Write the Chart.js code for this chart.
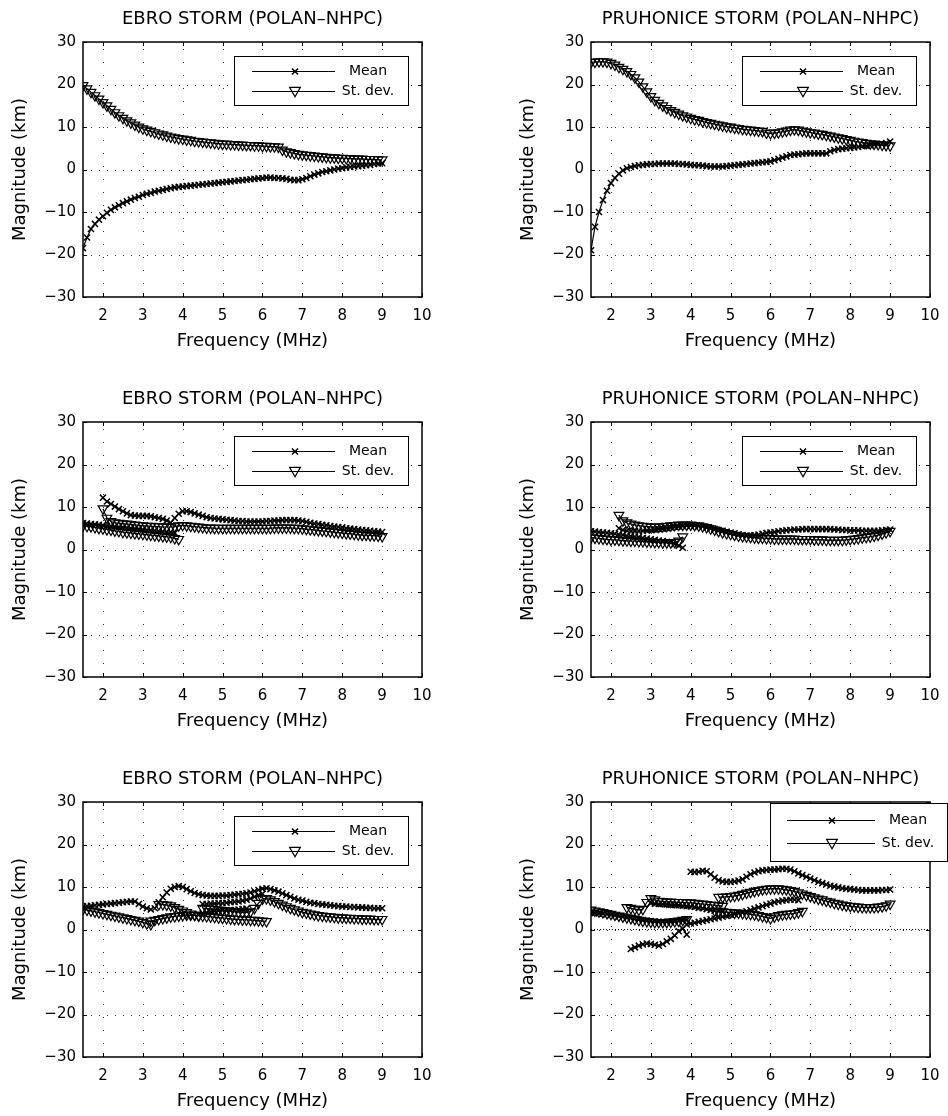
<!DOCTYPE html>
<html>
<head>
<meta charset="utf-8">
<script src="https://cdn.jsdelivr.net/npm/chart.js@4.4.1/dist/chart.umd.min.js"></script>
<style>
html,body{margin:0;padding:0;background:#fff;overflow:hidden;}
body{width:948px;height:1116px;position:relative;}
canvas{position:absolute;}
</style>
</head>
<body>
<canvas id="c0" width="474" height="356" style="left:0;top:0"></canvas>
<canvas id="c1" width="474" height="356" style="left:474px;top:0"></canvas>
<canvas id="c2" width="474" height="356" style="left:0;top:380px"></canvas>
<canvas id="c3" width="474" height="356" style="left:474px;top:380px"></canvas>
<canvas id="c4" width="474" height="356" style="left:0;top:760px"></canvas>
<canvas id="c5" width="474" height="356" style="left:474px;top:760px"></canvas>
<script>
// ---------------- DATA ----------------
const panelTitles = [
  'EBRO STORM (POLAN\u2013NHPC)', 'PRUHONICE STORM (POLAN\u2013NHPC)',
  'EBRO STORM (POLAN\u2013NHPC)', 'PRUHONICE STORM (POLAN\u2013NHPC)',
  'EBRO STORM (POLAN\u2013NHPC)', 'PRUHONICE STORM (POLAN\u2013NHPC)'
];
const xAxisTitle = 'Frequency (MHz)';
const yAxisTitle = 'Magnitude (km)';
const legendLabels = ['Mean', 'St. dev.'];
const xTicks = [2, 3, 4, 5, 6, 7, 8, 9, 10];
const yTicks = [-30, -20, -10, 0, 10, 20, 30];
const xMin = 1.5, xMax = 10, yMin = -30, yMax = 30;
const refLevel = 0;

const freqMHz = [1.5,1.6,1.7,1.8,1.9,2.0,2.1,2.2,2.3,2.4,2.5,2.6,2.7,2.8,2.9,3.0,3.1,3.2,3.3,3.4,
  3.5,3.6,3.7,3.8,3.9,4.0,4.1,4.2,4.3,4.4,4.5,4.6,4.7,4.8,4.9,5.0,5.1,5.2,5.3,5.4,
  5.5,5.6,5.7,5.8,5.9,6.0,6.1,6.2,6.3,6.4,6.5,6.6,6.7,6.8,6.9,7.0,7.1,7.2,7.3,7.4,
  7.5,7.6,7.7,7.8,7.9,8.0,8.1,8.2,8.3,8.4,8.5,8.6,8.7,8.8,8.9,9.0];

// Panel 1: EBRO (top)  — start 1.5 MHz
const ebroTopMean = [-18.5,-16,-14,-12.8,-11.8,-11,-10.2,-9.5,-8.9,-8.4,
  -7.9,-7.5,-7.1,-6.7,-6.4,-6,-5.7,-5.5,-5.2,-5,
  -4.8,-4.6,-4.4,-4.2,-4.1,-4,-3.9,-3.8,-3.7,-3.6,
  -3.5,-3.4,-3.3,-3.2,-3.1,-3,-2.9,-2.8,-2.7,-2.6,
  -2.5,-2.4,-2.3,-2.2,-2.1,-2,-1.9,-1.9,-2,-2,
  -2.1,-2.2,-2.4,-2.5,-2.5,-2.3,-2,-1.6,-1.2,-0.9,
  -0.6,-0.4,-0.2,0,0.2,0.3,0.5,0.6,0.7,0.8,
  0.9,1,1.1,1.3,1.4,1.5];
const ebroTopStd = [19.8,19,18.2,17.4,16.6,15.8,15,14.2,13.4,12.7,
  12.1,11.5,11,10.5,10,9.6,9.3,9,8.7,8.4,
  8.2,7.9,7.7,7.5,7.3,7.2,7,6.9,6.7,6.6,
  6.5,6.4,6.3,6.2,6.1,6,6,5.9,5.9,5.8,
  5.8,5.7,5.7,5.6,5.6,5.5,5.5,5.4,5.4,5.3,
  4.6,4.2,4,3.8,3.6,3.5,3.4,3.3,3.2,3.1,
  3,2.9,2.8,2.8,2.7,2.7,2.6,2.6,2.5,2.5,
  2.5,2.4,2.4,2.4,2.3,2.3];

// Panel 2: PRUHONICE (top) — start 1.5 MHz
const pruTopMean = [-19,-13.5,-10,-7.2,-5,-3.2,-2,-1,-0.2,0.3,
  0.6,0.8,1,1.1,1.2,1.3,1.3,1.4,1.4,1.4,
  1.4,1.4,1.3,1.3,1.2,1.1,1,1,0.9,0.8,
  0.7,0.7,0.7,0.7,0.8,0.9,1,1.1,1.2,1.3,
  1.4,1.5,1.6,1.7,1.8,1.9,2.2,2.5,2.8,3.1,
  3.4,3.5,3.6,3.7,3.8,3.8,3.8,3.8,3.8,3.8,
  4.3,4.6,4.8,4.9,5,5.1,5.2,5.3,5.5,5.6,
  5.7,5.8,5.9,6,6.2,6.6];
const pruTopStd = [25.2,25.3,25.4,25.4,25.3,25,24.6,24.1,23.6,23.1,
  22.4,21.6,20.6,19.5,18.3,17.2,16.3,15.6,15,14.4,
  13.9,13.5,13.1,12.7,12.4,12.1,11.8,11.6,11.3,11.1,
  10.9,10.7,10.5,10.3,10.1,10,9.8,9.7,9.5,9.4,
  9.3,9.2,9.1,9,8.6,8.5,8.6,8.7,8.9,9.1,
  9.3,9.4,9.3,9.1,8.9,8.7,8.6,8.4,8.3,8.1,
  7.9,7.7,7.5,7.3,7.1,6.9,6.7,6.5,6.4,6.2,
  6.1,6,5.9,5.8,5.7,5.6];

// Panel 3: EBRO (middle)
const ebroMidMeanA = [12.2,11.3,10.7,10.1,9.5,9,8.5,8.1,8,7.9,          // from 2.0
  7.9,7.9,7.8,7.6,7.4,7.2,6.8,6.3,7.4,8.4,
  9,9,8.8,8.5,8.2,7.9,7.6,7.4,7.3,7.2,
  7.1,7,6.9,6.8,6.7,6.7,6.6,6.6,6.6,6.6,
  6.6,6.7,6.7,6.8,6.8,6.9,6.9,6.9,6.9,6.8,
  6.7,6.5,6.3,6.1,6,5.8,5.7,5.5,5.4,5.3,
  5.2,5,4.9,4.8,4.7,4.6,4.5,4.4,4.3,4.2,
  4.1];
const ebroMidStdA = [9.6,7.4,6.6,6.3,6.2,6.1,6,5.9,5.8,5.7,            // from 2.0
  5.6,5.5,5.5,5.4,5.4,5.3,5.3,5.3,5.4,5.6,
  5.7,5.6,5.5,5.4,5.3,5.2,5.1,5.1,5,5,
  5,5,5,5,5,5,5,5,5,5,
  5,5,5,5.1,5.1,5.1,5.1,5.1,5,5,
  4.9,4.8,4.7,4.6,4.5,4.4,4.3,4.2,4.1,4,
  3.9,3.8,3.7,3.6,3.5,3.4,3.4,3.3,3.3,3.2,
  3.1];
const ebroMidMeanB = [6.2,6.1,6,5.9,5.8,5.7,5.6,5.5,5.4,5.3,5.2,5.1,5,4.9,4.8,4.7,4.6,4.5,4.4,4.3,4.2,4.1,4,3.9]; // from 1.5
const ebroMidStdB = [5.6,5.5,5.4,5.2,5,4.9,4.7,4.6,4.4,4.3,4.1,4,3.9,3.8,3.7,3.6,3.5,3.4,3.3,3.2,3.1,3,2.9,2.6,2.4]; // from 1.5

// Panel 4: PRUHONICE (middle)
const pruMidMeanA = [4.3,4.2,4.1,4,3.9,3.8,3.7,3.5,3.4,3.2,3.1,3,2.9,2.7,2.6,2.4,2.3,2.1,2,1.8,1.6,1.3,0.9,0.4]; // from 1.5
const pruMidStdA = [2.8,2.7,2.6,2.5,2.4,2.3,2.3,2.2,2.1,2.1,2,2,1.9,1.9,1.8,1.8,1.7,1.7,1.6,1.6,1.6,1.7,2,3];      // from 1.5
const pruMidMeanB = [5,4.6,4.4,4.3,4.3,4.3,4.4,4.5,                        // from 2.2
  4.6,4.7,4.8,4.9,5,5.2,5.3,5.4,5.5,5.6,
  5.6,5.6,5.5,5.4,5.2,5,4.8,4.6,4.4,4.2,
  4,3.8,3.6,3.4,3.3,3.3,3.4,3.5,3.7,3.9,
  4,4.1,4.3,4.4,4.5,4.6,4.7,4.7,4.8,4.8,
  4.8,4.8,4.8,4.8,4.8,4.8,4.7,4.7,4.6,4.6,
  4.5,4.5,4.5,4.4,4.4,4.4,4.4,4.4,4.5,4.6,
  4.7];
const pruMidStdB = [8.1,6.8,6.3,6,5.8,5.6,5.5,5.4,                          // from 2.2
  5.3,5.3,5.3,5.4,5.5,5.6,5.7,5.8,5.8,5.8,
  5.8,5.7,5.6,5.4,5.2,4.9,4.6,4.3,4,3.8,
  3.6,3.4,3.2,3.1,3,2.9,2.8,2.7,2.7,2.6,
  2.6,2.5,2.5,2.5,2.5,2.5,2.5,2.4,2.4,2.4,
  2.4,2.3,2.3,2.3,2.2,2.2,2.2,2.2,2.2,2.3,
  2.4,2.5,2.6,2.8,2.9,3,3.2,3.4,3.7,4,
  4.3];

// Panel 5: EBRO (bottom)
const ebroBotMean1 = [5.4,5.5,5.6,5.7,5.8,5.9,6,6.1,6.2,6.3,6.4,6.5,6.6,6.6,6,5.4,5,4.7]; // from 1.5
const ebroBotMean2 = [5,6.4,7.6,8.7,9.6,10,10.2,                              // from 3.3
  10,9.5,9,8.6,8.3,8.1,8,7.9,7.9,7.9,
  8,8,8.1,8.2,8.3,8.4,8.5,8.7,9,9.3,
  9.6,9.7,9.5,9.2,8.9,8.5,8.1,7.7,7.3,7,
  6.8,6.5,6.3,6.2,6,5.9,5.8,5.7,5.6,5.5,
  5.4,5.4,5.3,5.3,5.2,5.2,5.1,5.1,5,5,
  5];
const ebroBotMean3 = [6,6,6.1,6.1,6.2,6.2,6.3,6.4,6.5,6.6,6.8,7,7.3,7.7,8.1,8.4]; // from 4.5
const ebroBotMean4 = [3.6,3.8,4,4.2,4.3,4.4,4.5,4.5,4.6,4.6,4.7,4.8,4.9];         // from 4.4
const ebroBotStd1 = [4.8,4.6,4.4,4.2,4,3.8,3.6,3.4,3.2,3,2.8,2.6,2.4,2.2,2,1.7,1.4,1.2]; // from 1.5
const ebroBotStd2 = [2,2.2,2.4,2.6,2.8,3,3.1,3.2,3.3,3.4,3.4,3.4,3.3,3.2,3.1,3,2.9,2.8,2.7,2.6,
  2.5,2.4,2.4,2.3,2.3,2.2,2.2,2.1,2,1.9];                                          // from 3.2
const ebroBotStd3 = [5,4.9,4.8,4.7,4.6,                                           // from 4.5
  4.5,4.4,4.3,4.2,4.1,4,4,4.2,5,6.2,
  7.2,7.3,7,6.6,6.2,5.8,5.4,5,4.7,4.4,
  4.1,3.9,3.7,3.5,3.3,3.2,3.1,3,2.9,2.8,
  2.8,2.7,2.7,2.6,2.6,2.5,2.5,2.5,2.4,2.4,
  2.4];
const ebroBotStd4 = [5.9,5.9,5.8,5.6,5.2,4.8,4.4,4,3.7,3.4,3.2];                 // from 3.4

// Panel 6: PRUHONICE (bottom)
const pruBotMeanA = [4,3.9,3.8,3.7,3.6,3.4,3.3,3.1,3,2.8,2.7,2.5,2.4,2.2,2.1,2,1.9,1.8,1.8,1.8,1.8,1.9,2,2.1,2.2]; // from 1.5
const pruBotMeanB = [-4.6,-4.2,-3.8,-3.5,-3.3,-3.4,-3.6,-3.8,-3.4,-2.8,-2.2,-1.4,-0.4,0.2,-1.2];                 // from 2.5
const pruBotMeanC = [1.2,1.4,1.6,1.8,2,2.2,2.4,2.6,2.8,3,3.2,3.4,3.6,3.8,4,4.3,4.6,4.9,5.2,5.5,
  5.8,6.1,6.4,6.6,6.8,6.9,7,7,6.9];                                                                               // from 3.9
const pruBotMeanD = [13.6,13.5,13.6,13.8,13.7,13,12.2,11.6,11.3,11.2,                                          // from 4.0
  11.2,11.3,11.5,11.8,12.4,13,13.4,13.7,13.9,14,
  14.1,14.1,14.2,14.3,14.3,14.1,13.7,13.2,12.8,12.4,
  12,11.6,11.2,10.9,10.6,10.3,10.1,9.9,9.7,9.6,
  9.5,9.4,9.3,9.2,9.2,9.2,9.2,9.2,9.3,9.3,
  9.4];
const pruBotMeanE = [6.2,6.1,6,6,5.9,5.8,5.8,5.7,5.6,5.5,5.4,5.3,5.1,5,4.8,4.6,4.4,4.3,4.2];                   // from 3.0
const pruBotStdA = [4.6,4.4,4.2,4,3.8,3.6,3.4,3.2,3,2.8,2.6,2.4,2.2,2,1.9,1.8,1.7,1.7,1.7,1.7,1.8,1.9,2,2.2,2.4]; // from 1.5
const pruBotStdB = [5.2,5,4.8,4.6,4.8,6.4,7.3,7,6.7,6.6,6.5,6.5,6.4,6.4,6.4,6.3,6.3,6.2,6.1,6,5.9,5.8,5.7,5.6,5.5]; // from 2.4
const pruBotStdC = [7.6,7.6,7.7,                                                                                  // from 4.7
  7.8,7.9,8.1,8.3,8.6,8.8,9,9.2,9.4,9.5,
  9.6,9.6,9.6,9.5,9.4,9.2,9,8.7,8.4,8.1,
  7.8,7.5,7.2,7,6.7,6.5,6.2,6,5.8,5.6,
  5.5,5.4,5.3,5.2,5.2,5.2,5.2,5.3,5.4,5.6,
  6];
const pruBotStdD = [4.4,4.3,4.2,4.1,4,3.9,3.9,3.8,3.7,3.6,3.5,3.3,3.1,2.9,2.6,3,3.3,3.5,3.6,3.7,3.8,4,4.3]; // from 4.6

// --------------- CHART SETUP ---------------
const FONT = "'DejaVu Sans', 'Liberation Sans', Arial, sans-serif";
Chart.defaults.font.family = FONT;
Chart.defaults.color = '#000';

const TICK_FONT = 15, LABEL_FONT = 18, TITLE_FONT = 18, LEGEND_FONT = 14;
const CROSS_R = 4.3, TRI_R = 5.6;

function seriesPoints(values, startMHz) {
  const i0 = freqMHz.findIndex(f => Math.abs(f - startMHz) < 1e-9);
  return values.map((v, i) => ({x: freqMHz[i0 + i], y: v}));
}

const meanStyle = {pointStyle: 'crossRot', pointRadius: CROSS_R, pointBorderWidth: 1.5,
  borderColor: '#000', borderWidth: 1.2, pointBorderColor: '#000', pointBackgroundColor: '#000',
  showLine: true, fill: false, tension: 0};
const stdStyle = {pointStyle: 'triangle', pointRotation: 180, pointRadius: TRI_R, pointBorderWidth: 1.2,
  borderColor: '#000', borderWidth: 1.2, pointBorderColor: '#000', pointBackgroundColor: 'rgba(0,0,0,0)',
  showLine: true, fill: false, tension: 0};

const legendStd = {right: -14, top: 14, w: 174, h: 49, rows: [15, 35], line: [18, 101], mark: 61, text: 134};
const legendWide = {right: 17, top: 1, w: 177, h: 58, rows: [17, 40], line: [17, 105], mark: 62, text: 138};

const panels = [
  {id: 'c0', t: 0, left: true, legend: legendStd,
   series: [['mean', ebroTopMean, 1.5], ['std', ebroTopStd, 1.5]]},
  {id: 'c1', t: 1, left: false, legend: legendStd,
   series: [['mean', pruTopMean, 1.5], ['std', pruTopStd, 1.5]]},
  {id: 'c2', t: 2, left: true, legend: legendStd,
   series: [['mean', ebroMidMeanA, 2.0], ['std', ebroMidStdA, 2.0], ['mean', ebroMidMeanB, 1.5], ['std', ebroMidStdB, 1.5]]},
  {id: 'c3', t: 3, left: false, legend: legendStd,
   series: [['mean', pruMidMeanA, 1.5], ['std', pruMidStdA, 1.5], ['mean', pruMidMeanB, 2.2], ['std', pruMidStdB, 2.2]]},
  {id: 'c4', t: 4, left: true, legend: legendStd,
   series: [['mean', ebroBotMean1, 1.5], ['mean', ebroBotMean2, 3.3], ['mean', ebroBotMean3, 4.5], ['mean', ebroBotMean4, 4.4],
            ['std', ebroBotStd1, 1.5], ['std', ebroBotStd2, 3.2], ['std', ebroBotStd3, 4.5], ['std', ebroBotStd4, 3.4]]},
  {id: 'c5', t: 5, left: false, legend: legendWide, refLine: true,
   series: [['mean', pruBotMeanA, 1.5], ['mean', pruBotMeanB, 2.5], ['mean', pruBotMeanC, 3.9], ['mean', pruBotMeanD, 4.0], ['mean', pruBotMeanE, 3.0],
            ['std', pruBotStdA, 1.5], ['std', pruBotStdB, 2.4], ['std', pruBotStdC, 4.7], ['std', pruBotStdD, 4.6]]}
];

function fmtTick(v) { return String(v).replace('-', '\u2212'); }

function drawMarker(ctx, kind, x, y) {
  ctx.beginPath();
  if (kind === 'mean') {
    const d = CROSS_R * Math.SQRT1_2;
    ctx.lineWidth = 1.5;
    ctx.moveTo(x - d, y - d); ctx.lineTo(x + d, y + d);
    ctx.moveTo(x - d, y + d); ctx.lineTo(x + d, y - d);
  } else {
    const r = TRI_R + 0.6;
    ctx.lineWidth = 1.2;
    for (let k = 0; k < 3; k++) {
      const a = Math.PI + k * 2 * Math.PI / 3;
      const px = x + Math.sin(a) * r, py = y - 1 - Math.cos(a) * r;
      if (k === 0) ctx.moveTo(px, py); else ctx.lineTo(px, py);
    }
    ctx.closePath();
  }
  ctx.stroke();
  ctx.lineWidth = 1;
}

const framePlugin = {
  id: 'frame',
  beforeDatasetsDraw(chart) {
    const {ctx, chartArea: a, scales: {x, y}} = chart;
    ctx.save();
    ctx.strokeStyle = '#333';
    ctx.lineWidth = 1;
    ctx.setLineDash([1, 12]);
    xTicks.forEach(v => {
      const px = Math.round(x.getPixelForValue(v)) + 0.5;
      if (px > a.left + 1 && px < a.right - 1) {
        ctx.beginPath(); ctx.moveTo(px, a.bottom); ctx.lineTo(px, a.top); ctx.stroke();
      }
    });
    ctx.setLineDash([1, 7]);
    yTicks.forEach(v => {
      const py = Math.round(y.getPixelForValue(v)) + 0.5;
      if (py > a.top + 1 && py < a.bottom - 1) {
        ctx.beginPath(); ctx.moveTo(a.left, py); ctx.lineTo(a.right, py); ctx.stroke();
      }
    });
    ctx.restore();
  },
  afterDraw(chart) {
    const {ctx, chartArea: a, scales: {x, y}} = chart;
    const p = chart.options.plugins.frame;
    ctx.save();
    ctx.strokeStyle = '#000';
    ctx.lineWidth = 1.5;
    ctx.setLineDash([]);
    ctx.strokeRect(Math.round(a.left), Math.round(a.top), Math.round(a.right - a.left), Math.round(a.bottom - a.top));
    ctx.lineWidth = 1;
    const TL = 4;
    xTicks.forEach(v => {
      const px = Math.round(x.getPixelForValue(v)) + 0.5;
      ctx.beginPath();
      ctx.moveTo(px, a.bottom); ctx.lineTo(px, a.bottom - TL);
      ctx.moveTo(px, a.top); ctx.lineTo(px, a.top + TL);
      ctx.stroke();
    });
    yTicks.forEach(v => {
      const py = Math.round(y.getPixelForValue(v)) + 0.5;
      ctx.beginPath();
      ctx.moveTo(a.left, py); ctx.lineTo(a.left + TL, py);
      ctx.moveTo(a.right, py); ctx.lineTo(a.right - TL, py);
      ctx.stroke();
    });
    // title
    ctx.fillStyle = '#000';
    ctx.font = TITLE_FONT + 'px ' + FONT;
    ctx.textAlign = 'center';
    ctx.textBaseline = 'middle';
    ctx.fillText(p.title, (a.left + a.right) / 2, a.top - 23);
    // legend
    const L = p.legend;
    const bx = Math.round(a.right + L.right - L.w), by = Math.round(a.top + L.top);
    ctx.fillStyle = '#fff';
    ctx.fillRect(bx, by, L.w, L.h);
    ctx.strokeStyle = '#000';
    ctx.lineWidth = 1;
    ctx.strokeRect(bx + 0.5, by + 0.5, L.w, L.h);
    ctx.font = LEGEND_FONT + 'px ' + FONT;
    ctx.textAlign = 'center';
    ['mean', 'std'].forEach((kind, i) => {
      const ry = by + L.rows[i] + 0.5;
      ctx.beginPath();
      ctx.moveTo(bx + L.line[0], ry); ctx.lineTo(bx + L.line[1], ry);
      ctx.stroke();
      drawMarker(ctx, kind, bx + L.mark, ry);
      ctx.fillStyle = '#000';
      ctx.fillText(legendLabels[i], bx + L.text, ry);
    });
    ctx.restore();
  }
};

const X_AXIS_H = Math.round(44 + LABEL_FONT * 1.2 / 2);

panels.forEach(p => {
  const datasets = p.series.map(([kind, vals, start]) =>
    Object.assign({data: seriesPoints(vals, start)}, kind === 'mean' ? meanStyle : stdStyle));
  if (p.refLine) {
    datasets.push({data: [{x: xMin, y: refLevel}, {x: xMax, y: refLevel}], showLine: true,
      borderColor: '#000', borderWidth: 1, borderDash: [1, 2], pointRadius: 0, fill: false});
  }
  new Chart(document.getElementById(p.id), {
    type: 'scatter',
    data: {datasets},
    options: {
      responsive: false, animation: false, events: [],
      layout: {padding: {left: 0, right: p.left ? 52 : 18, top: 42, bottom: 356 - 42 - 255 - X_AXIS_H}},
      plugins: {
        legend: {display: false}, tooltip: {enabled: false}, title: {display: false},
        frame: {title: panelTitles[p.t], legend: p.legend}
      },
      scales: {
        x: {
          type: 'linear', min: xMin, max: xMax,
          afterBuildTicks: s => { s.ticks = xTicks.map(v => ({value: v})); },
          afterFit: s => { s.height = X_AXIS_H; s.paddingLeft = 0; s.paddingRight = 0; },
          grid: {display: false, drawTicks: false}, border: {display: false},
          ticks: {padding: 10, font: {size: TICK_FONT}, color: '#000', maxRotation: 0, autoSkip: false, callback: v => fmtTick(v)},
          title: {display: true, text: xAxisTitle, font: {size: LABEL_FONT}, color: '#000', padding: {top: 0, bottom: 0}}
        },
        y: {
          type: 'linear', min: yMin, max: yMax,
          afterBuildTicks: s => { s.ticks = yTicks.map(v => ({value: v})); },
          afterFit: s => { s.width = p.left ? 83 : 117; s.paddingTop = 0; s.paddingBottom = 0; },
          grid: {display: false, drawTicks: false}, border: {display: false},
          ticks: {padding: 7, font: {size: TICK_FONT}, color: '#000', autoSkip: false, callback: v => fmtTick(v)},
          title: {display: true, text: yAxisTitle, font: {size: LABEL_FONT}, color: '#000', padding: {top: p.left ? 10 : 44, bottom: 0}}
        }
      }
    },
    plugins: [framePlugin]
  });
});
</script>
</body>
</html>
